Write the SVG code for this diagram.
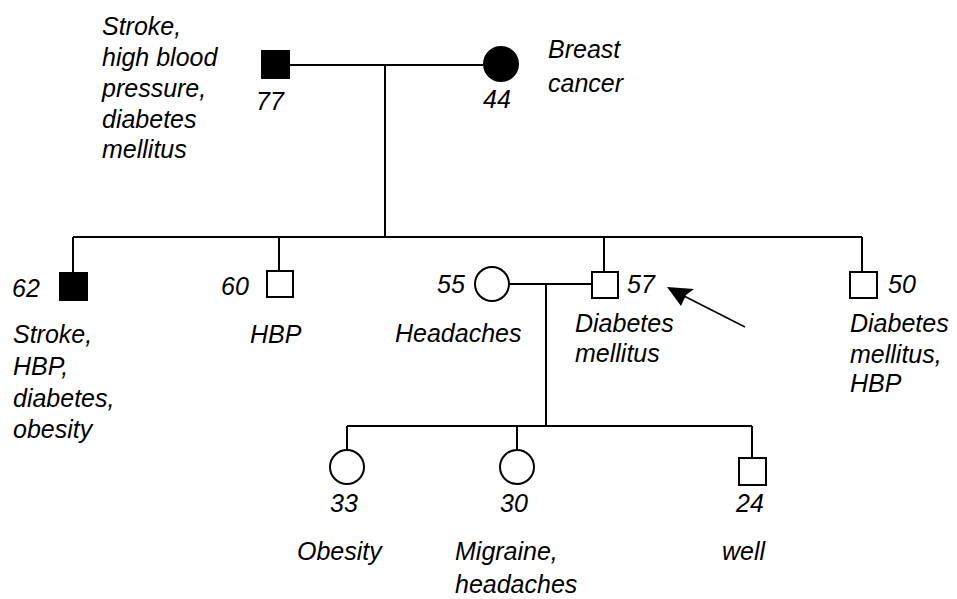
<svg xmlns="http://www.w3.org/2000/svg" width="957" height="599" viewBox="0 0 957 599">
<style>
text{font-family:"Liberation Sans",Arial,sans-serif;font-style:italic;font-size:25px;fill:#000}
.ln{stroke:#000;stroke-width:2;fill:none}
.sym{stroke:#000;stroke-width:2;fill:#fff}
.aff{stroke:#000;stroke-width:2;fill:#000}
</style>
<rect width="957" height="599" fill="#fff"/>
<g id="connectors">
<path class="ln" d="M290,65 H483"/>
<path class="ln" d="M385,65 V237"/>
<path class="ln" d="M73,237 H862"/>
<path class="ln" d="M73,237 V273"/>
<path class="ln" d="M279,237 V271"/>
<path class="ln" d="M604,237 V272"/>
<path class="ln" d="M862,237 V272"/>
<path class="ln" d="M510,284 H592"/>
<path class="ln" d="M546,284 V426"/>
<path class="ln" d="M347,426 H752"/>
<path class="ln" d="M347,426 V449"/>
<path class="ln" d="M517,426 V449"/>
<path class="ln" d="M752,426 V458"/>
<path d="M745,327 L684,296" stroke="#000" stroke-width="1.6"/>
<polygon points="667,287 694,289 686,295 681,306" fill="#000"/>
</g>
<g id="n77">
<rect class="aff" x="262" y="51" width="27" height="27"/>
<text x="256" y="110">77</text>
<text x="102" y="35">Stroke,</text>
<text x="102" y="66">high blood</text>
<text x="102" y="97">pressure,</text>
<text x="102" y="128">diabetes</text>
<text x="102" y="158">mellitus</text>
</g>
<g id="n44">
<circle class="aff" cx="501" cy="64" r="17"/>
<text x="483" y="108">44</text>
<text x="548" y="58">Breast</text>
<text x="548" y="92">cancer</text>
</g>
<g id="n62">
<rect class="aff" x="60" y="273" width="27" height="27"/>
<text x="12" y="297">62</text>
<text x="13" y="343">Stroke,</text>
<text x="13" y="375">HBP,</text>
<text x="13" y="407">diabetes,</text>
<text x="13" y="438">obesity</text>
</g>
<g id="n60">
<rect class="sym" x="267" y="271" width="26" height="26"/>
<text x="221" y="295">60</text>
<text x="250" y="343">HBP</text>
</g>
<g id="n55">
<circle class="sym" cx="492" cy="284" r="17"/>
<text x="437" y="293">55</text>
<text x="395" y="342">Headaches</text>
</g>
<g id="n57">
<rect class="sym" x="592" y="272" width="26" height="26"/>
<text x="627" y="293">57</text>
<text x="575" y="332">Diabetes</text>
<text x="575" y="362">mellitus</text>
</g>
<g id="n50">
<rect class="sym" x="850" y="272" width="27" height="26"/>
<text x="888" y="293">50</text>
<text x="850" y="332">Diabetes</text>
<text x="850" y="363">mellitus,</text>
<text x="850" y="392">HBP</text>
</g>
<g id="n33">
<circle class="sym" cx="347" cy="467" r="17"/>
<text x="330" y="512">33</text>
<text x="297" y="560">Obesity</text>
</g>
<g id="n30">
<circle class="sym" cx="517" cy="467" r="17"/>
<text x="500" y="512">30</text>
<text x="455" y="560">Migraine,</text>
<text x="455" y="593">headaches</text>
</g>
<g id="n24">
<rect class="sym" x="739" y="458" width="27" height="27"/>
<text x="736" y="512">24</text>
<text x="722" y="560">well</text>
</g>
</svg>
